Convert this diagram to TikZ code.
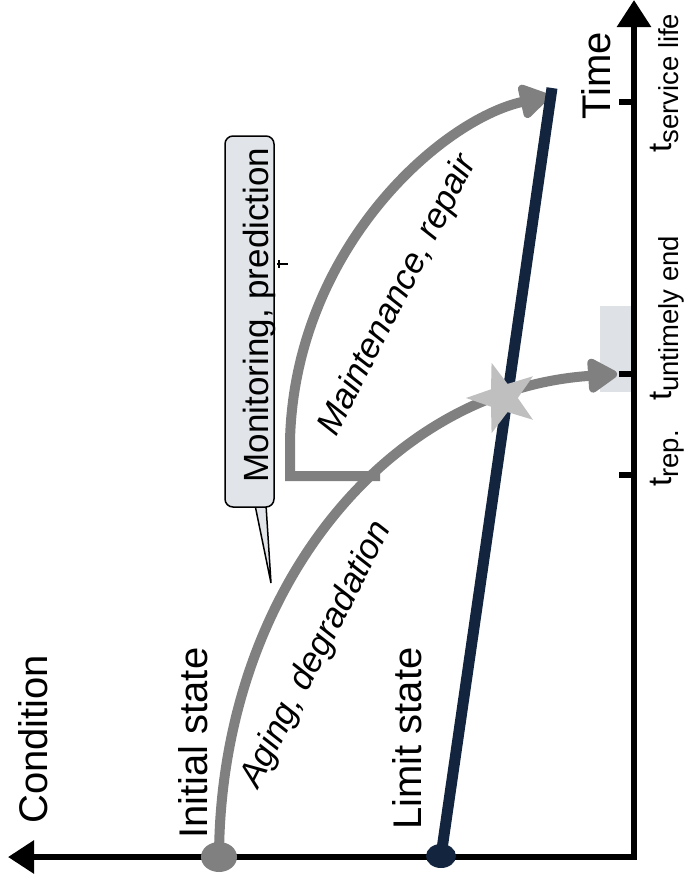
\documentclass[tikz,border=0pt]{standalone}
\usepackage{fontspec}
\setmainfont{Liberation Sans}
\usetikzlibrary{arrows.meta,shapes.geometric}
\definecolor{flowgrey}{HTML}{808080}
\definecolor{stargrey}{HTML}{BFBFBF}
\definecolor{limitnavy}{HTML}{13243F}
\definecolor{boxfill}{HTML}{E1E4E9}
\definecolor{spanfill}{HTML}{DEE1E6}
% time label: t with a lowered subscript
\newcommand\tlab[1]{{\fontsize{33}{33}\selectfont t}\raisebox{-7pt}{\fontsize{27.5}{27.5}\selectfont #1}}
\begin{document}
\begin{tikzpicture}[x=1pt,y=-1pt,
  axis/.style={line width=6pt,black},
  tickmark/.style={line width=6pt,black},
  flow/.style={line width=10pt,flowgrey,-{Triangle[length=33pt,width=38pt,round]}},
  limitline/.style={line width=11pt,limitnavy},
  biglabel/.style={rotate=90,anchor=base west,inner sep=0pt,font=\fontsize{40}{40}\selectfont},
  timelabel/.style={rotate=90,anchor=base west,inner sep=0pt},
  flowlabel/.style={anchor=base west,inner sep=0pt,font=\fontsize{35}{35}\selectfont\itshape},
  dot/.style={ellipse,inner sep=0pt},
]
\useasboundingbox (0,0) rectangle (688,889);

% key points
\coordinate (origin) at (634,857);
\coordinate (condtip) at (8,857);
\coordinate (timetip) at (634,0);
\coordinate (initpt) at (219,857);
\coordinate (limpt) at (441,856);
\coordinate (limtop) at (552,88);
\coordinate (untimely) at (617,374);
\coordinate (servtip) at (549,96);
\coordinate (junction) at (380,476);
\coordinate (bend) at (290,476);

% highlighted span around the untimely end
\fill[spanfill] (600,306) rectangle (632,392);

% axes
\draw[axis,{Triangle[length=26pt,width=32pt]}-{Triangle[length=27pt,width=33pt]}]
  (condtip) -- (origin) -- (timetip);
\draw[tickmark] (634,102) -- ++(-15,0);
\draw[tickmark] (634,374) -- ++(-15,0);
\draw[tickmark] (634,475) -- ++(-15,0);

% axis labels
\node[biglabel] (cond) at (47,824) {Condition};
\node[biglabel] (init) at (207,839) {Initial state};
\node[biglabel] (lim) at (421,830) {Limit state};
\node[biglabel] (time) at (610,120) {Time};
\node[timelabel] (trep) at (671,487) {\tlab{rep.}};
\node[timelabel] (tend) at (671,401) {\tlab{untimely end}};
\node[timelabel] (tserv) at (671,153) {\tlab{service life}};

% callout
\draw[line width=1.5pt,fill=boxfill] (255,505) -- (271,583) -- (266,505) -- cycle;
\draw[line width=1.5pt,fill=boxfill,rounded corners=8pt] (225,136) rectangle (274,507);
\node[rotate=90,anchor=base,inner sep=0pt,font=\fontsize{35}{35}\selectfont] (monitor) at (268,315) {Monitoring, prediction};
\draw[line width=2pt] (277,264) -- (288,264);
\draw[line width=2pt] (279,260) -- (279,268);

% degradation path and maintenance branch
\draw[flow] (initpt) .. controls (220,600) and (380,390) .. (untimely);
\draw[flow] (junction) -- (bend) -- (290,440) .. controls (295,250) and (440,120) .. (servtip);
\node[flowlabel,rotate=63] (aging) at (258,790) {Aging, degradation};
\node[flowlabel,rotate=63] (maint) at (336,438) {Maintenance, repair};

% limit state line
\draw[limitline] (limpt) -- (limtop);

% failure point
\node[star,star points=5,star point ratio=2.5,fill=stargrey,minimum size=74pt,inner sep=0pt,rotate=90] (failure) at (503,398) {};

% start dots
\node[dot,fill=flowgrey,minimum width=36pt,minimum height=30pt] (initdot) at (initpt) {};
\node[dot,fill=limitnavy,minimum width=30pt,minimum height=24pt] (limdot) at (limpt) {};
\end{tikzpicture}
\end{document}
